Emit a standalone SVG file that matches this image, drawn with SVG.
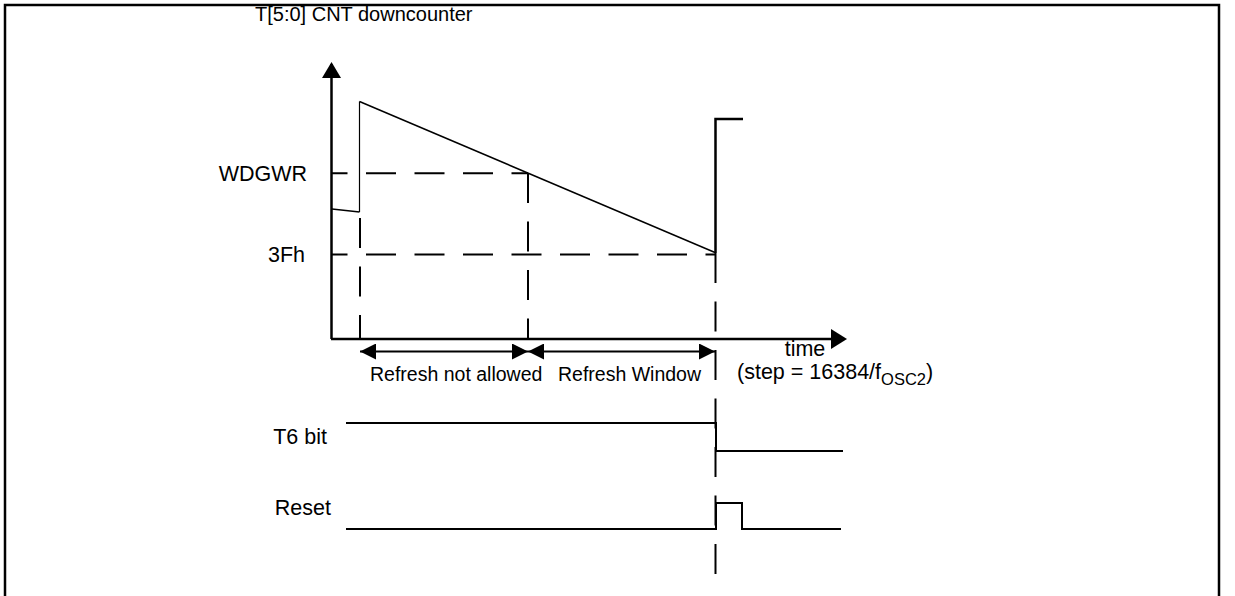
<svg xmlns="http://www.w3.org/2000/svg" width="1235" height="596" viewBox="0 0 1235 596">
<defs>
<style>
text{font-family:"Liberation Sans",Arial,sans-serif;fill:#000}
.lbl{font-size:21.5px}
.sm{font-size:19.5px}
.ln{fill:none;stroke:#000}
.dash{fill:none;stroke:#000;stroke-width:2;stroke-dasharray:30 18.5}
</style>
<marker id="ah" viewBox="0 0 16 16" refX="16" refY="8" markerWidth="16" markerHeight="16" markerUnits="userSpaceOnUse" orient="auto-start-reverse"><path d="M0,0 L16,8 L0,16 Z" fill="#000"/></marker>
</defs>
<rect width="1235" height="596" fill="#fff"/>
<path class="ln" d="M5,596 V5 H1219 V596" stroke-width="2.5"/>
<g id="axes">
<path class="ln" d="M331.5,339 V64" stroke-width="2.5"/>
<path d="M322,78 L331.5,62 L341,78 Z"/>
<path class="ln" d="M331,339 H833" stroke-width="2.5"/>
<path d="M831,329 L847,339 L831,349 Z"/>
</g>
<g id="counter">
<path class="ln" d="M332,209 L359.5,212" stroke-width="1.5"/>
<path class="ln" d="M359.5,212 V101.5" stroke="#555" stroke-width="1.2"/>
<path class="ln" d="M359.5,101.5 L715,252.5" stroke-width="1.5"/>
<path class="ln" d="M715.5,253 V119 H743" stroke-width="2.5"/>
</g>
<g id="guides">
<path class="dash" d="M332,173.3 H528" stroke-dashoffset="14.5"/>
<path class="dash" d="M332,254.5 H715" stroke-dashoffset="14.5"/>
<path class="dash" d="M360,214 V339" stroke-dashoffset="-4"/>
<path class="dash" d="M528,173 V339" stroke-dashoffset="0"/>
<path class="dash" d="M715.5,253 V585" stroke-dashoffset="0"/>
</g>
<g id="connectors">
<path class="ln" d="M360,351.5 H528" stroke-width="2" marker-start="url(#ah)" marker-end="url(#ah)"/>
<path class="ln" d="M528,351.5 H715" stroke-width="2" marker-start="url(#ah)" marker-end="url(#ah)"/>
</g>
<g id="labels">
<text x="255" y="21" font-size="20">T[5:0] CNT downcounter</text>
<text class="lbl" x="307" y="181" text-anchor="end">WDGWR</text>
<text class="lbl" x="305" y="262" text-anchor="end">3Fh</text>
<text class="sm" x="370" y="381">Refresh not allowed</text>
<text class="sm" x="558" y="381">Refresh Window</text>
<text class="lbl" x="805" y="356" text-anchor="middle">time</text>
<text class="lbl" x="737" y="379">(step = 16384/f<tspan font-size="16.5" dy="6">OSC2</tspan><tspan dy="-6">)</tspan></text>
<text class="lbl" x="327" y="444" text-anchor="end">T6 bit</text>
<text class="lbl" x="331" y="515" text-anchor="end">Reset</text>
</g>
<g id="t6">
<path class="ln" d="M346,423 H716 V451 H843" stroke-width="2"/>
</g>
<g id="reset">
<path class="ln" d="M346,529 H716 V503 H742 V529 H841" stroke-width="2"/>
</g>
</svg>
